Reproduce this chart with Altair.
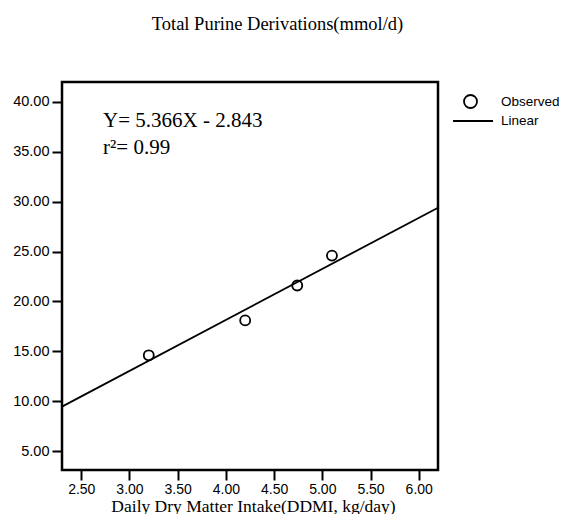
import altair as alt
import pandas as pd

# Observed data points
x_obs = [3.20, 4.20, 4.74, 5.10]
y_obs = [14.6, 18.1, 21.6, 24.6]

# Fitted linear line (endpoints)
line_x = [2.30, 6.20]
line_y = [9.45, 29.40]

x_ticks = [2.5, 3.0, 3.5, 4.0, 4.5, 5.0, 5.5, 6.0]
y_ticks = [5, 10, 15, 20, 25, 30, 35, 40]

title_text = "Total Purine Derivations(mmol/d)"
x_title = "Daily Dry Matter Intake(DDMI, kg/day)"
eq_text = "Y= 5.366X - 2.843"
r2_text = "r\u00b2= 0.99"

obs = pd.DataFrame({"x": x_obs, "y": y_obs})
lin = pd.DataFrame({"x": line_x, "y": line_y})
one = pd.DataFrame({"a": [0]})

xs = alt.Scale(domain=[2.3, 6.2], nice=False, zero=False)
ys = alt.Scale(domain=[3.1, 42], nice=False, zero=False)

xax = alt.Axis(values=x_ticks, format=".2f", title=None, grid=False, domain=False,
               tickColor="black", tickWidth=2, tickSize=10, labelFont="Liberation Sans",
               labelFontSize=14, labelColor="black", labelPadding=2)
yax = alt.Axis(values=y_ticks, format=".2f", title=None, grid=False, domain=False,
               tickColor="black", tickWidth=2, tickSize=10, labelFont="Liberation Sans",
               labelFontSize=14.5, labelColor="black", labelPadding=3)

line = alt.Chart(lin).mark_line(color="black", strokeWidth=1.8).encode(
    x=alt.X("x:Q", scale=xs, axis=xax),
    y=alt.Y("y:Q", scale=ys, axis=yax),
)
pts = alt.Chart(obs).mark_point(shape="circle", filled=False, color="black",
                                 size=100, strokeWidth=1.8, opacity=1).encode(
    x=alt.X("x:Q", scale=xs),
    y=alt.Y("y:Q", scale=ys),
)

def txt(text, x, y, font, size, align="left", baseline="alphabetic"):
    return alt.Chart(one).mark_text(text=text, font=font, fontSize=size, color="black",
                                    align=align, baseline=baseline).encode(
        x=alt.value(x), y=alt.value(y))

title = txt(title_text, 215.5, -52, "Liberation Serif", 18.5, align="center")
xtitle = txt(x_title, 191.5, 429.5, "Liberation Serif", 17.5, align="center")
eq = txt(eq_text, 41, 44.7, "Liberation Serif", 21)
r2 = txt(r2_text, 41, 72, "Liberation Serif", 21)

leg_pt = alt.Chart(one).mark_point(shape="circle", filled=False, color="black",
                                    size=169, strokeWidth=1.8, opacity=1).encode(
    x=alt.value(408.5), y=alt.value(19.5))
leg_line = alt.Chart(one).mark_rule(color="black", strokeWidth=1.8).encode(
    x=alt.value(391), x2=alt.value(431), y=alt.value(39))
leg_t1 = txt("Observed", 439, 19.5, "Liberation Sans", 13.5, baseline="middle")
leg_t2 = txt("Linear", 439, 39, "Liberation Sans", 13.5, baseline="middle")

chart = alt.layer(line, pts, title, xtitle, eq, r2, leg_pt, leg_line, leg_t1, leg_t2).properties(
    width=376, height=388,
    autosize=alt.AutoSizeParams(type="none"),
    padding={"left": 54, "top": 74, "right": 121, "bottom": 44},
    background="white",
).configure_view(stroke="black", strokeWidth=2.5)

chart.save("out.html", embed_options={"renderer": "svg", "actions": False})
